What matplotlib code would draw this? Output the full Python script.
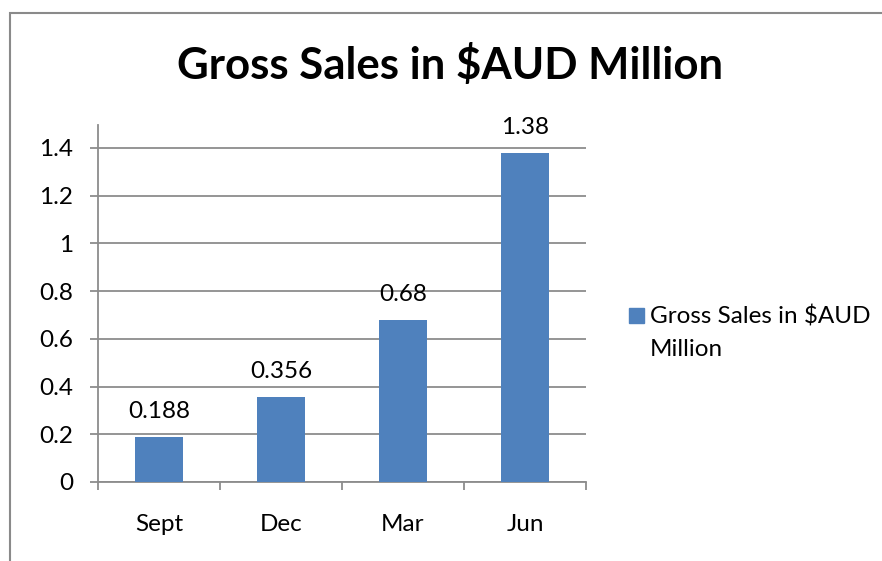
import matplotlib
matplotlib.use("Agg")
import matplotlib.pyplot as plt
from matplotlib.patches import Rectangle
import numpy as np

# data
quarters = ["Sept", "Dec", "Mar", "Jun"]
sales = [0.188, 0.356, 0.68, 1.38]
value_labels = ["0.188", "0.356", "0.68", "1.38"]
series_name = "Gross Sales in $AUD Million"
yticks = [0, 0.2, 0.4, 0.6, 0.8, 1, 1.2, 1.4]
ytick_labels = ["0", "0.2", "0.4", "0.6", "0.8", "1", "1.2", "1.4"]

bar_color = "#4F81BD"
grid_color = "#8C8C8C"
plt.rcParams["font.family"] = ["Lato", "DejaVu Sans"]
fs = 17.5

fig = plt.figure(figsize=(8.82, 5.61), dpi=100)
ax = fig.add_axes([98 / 882, 1 - 482 / 561, 488 / 882, (482 - 125) / 561])

x = np.arange(len(quarters))
ax.bar(x, sales, width=0.4, color=bar_color, zorder=3)
ax.set_xlim(-0.5, len(quarters) - 0.5)
ax.set_ylim(0, 1.496)

ax.set_yticks(yticks)
ax.set_yticklabels(ytick_labels, fontsize=fs)
ax.yaxis.grid(True, color=grid_color, linewidth=1.3, zorder=0)
ax.set_xticks(x)
ax.set_xticklabels(quarters, fontsize=fs)
ax.set_xticks(np.arange(len(quarters) + 1) - 0.5, minor=True)
ax.tick_params(axis="x", which="major", length=0, pad=23)
ax.tick_params(axis="x", which="minor", length=6, width=1.3, color=grid_color, direction="out")
ax.tick_params(axis="y", length=6, width=1.3, color=grid_color, pad=12)

for s in ["top", "right"]:
    ax.spines[s].set_visible(False)
for s in ["left", "bottom"]:
    ax.spines[s].set_color(grid_color)
    ax.spines[s].set_linewidth(1.3)

for xi, v, lab in zip(x, sales, value_labels):
    ax.annotate(lab, (xi, v), xytext=(0, 13.5), textcoords="offset points",
                ha="center", va="baseline", fontsize=fs)

fig.text(450 / 882, 1 - 79 / 561, series_name, ha="center", va="baseline",
         fontsize=31.5, fontweight="bold")

# legend entry
fig.patches.append(Rectangle((629 / 882, 1 - 323 / 561), 15 / 882, 15 / 561,
                             transform=fig.transFigure, color=bar_color))
fig.text(650 / 882, 1 - 323 / 561, "Gross Sales in $AUD", ha="left",
         va="baseline", fontsize=fs)
fig.text(650 / 882, 1 - 356 / 561, "Million", ha="left",
         va="baseline", fontsize=fs)

# outer chart frame
fig.patches.append(Rectangle((10 / 882, -0.1), 1.0, 1 - 13 / 561 + 0.1,
                             transform=fig.transFigure, fill=False,
                             edgecolor="#8A8A8A", linewidth=1.5))

fig.savefig("out.png", dpi=100)
